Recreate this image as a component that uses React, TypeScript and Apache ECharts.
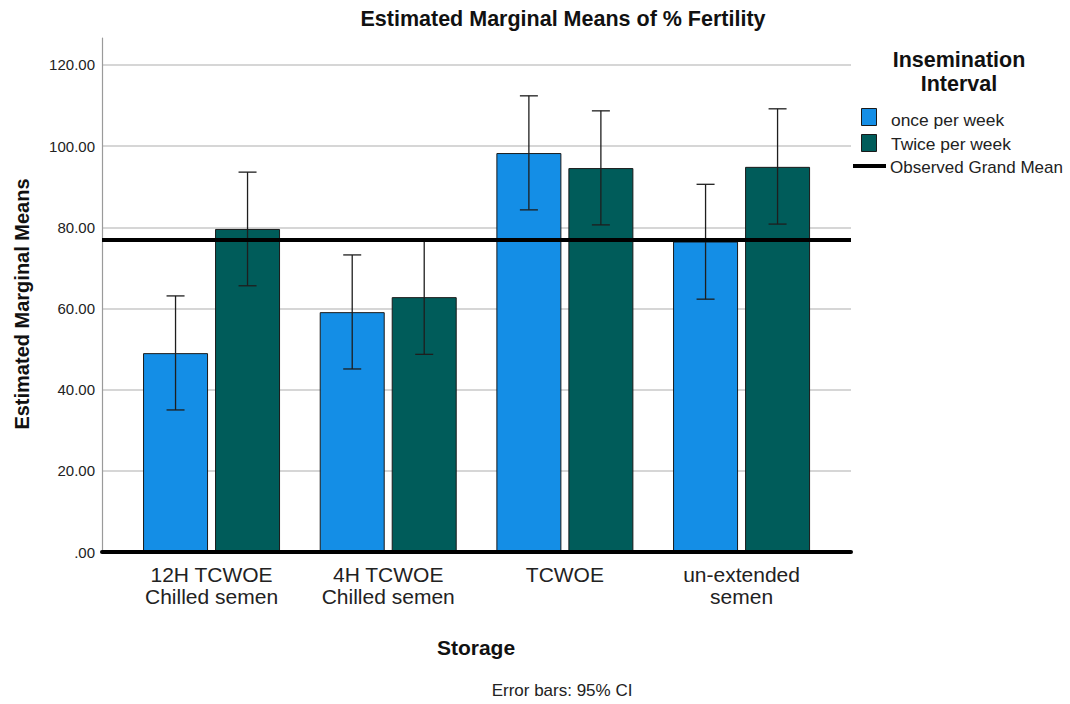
import React, { useEffect, useRef } from "react";
import * as echarts from "echarts";

// Storage methods on the category axis
const storageTypes = ["12H TCWOE\nChilled semen", "4H TCWOE\nChilled semen", "TCWOE", "un-extended\nsemen"];

// Estimated marginal means of % fertility, per insemination interval
const onceMeans = [49.0, 59.1, 98.3, 76.5];
const onceLower = [35.0, 45.1, 84.3, 62.3];
const onceUpper = [63.1, 73.2, 112.4, 90.6];

const twiceMeans = [79.6, 62.8, 94.6, 94.9];
const twiceLower = [65.6, 48.7, 80.6, 80.8];
const twiceUpper = [93.6, 76.8, 108.7, 109.2];

const grandMean = 77.0;

const seriesNames = ["once per week", "Twice per week"];
const grandMeanLabel = "Observed Grand Mean";

const ONCE_COLOR = "#148EE6";
const TWICE_COLOR = "#005C5A";
const FONT = "'Liberation Sans', Arial, sans-serif";

const BAR_WIDTH = 65;
const BAR_GAP = 7;
const Y_MAX = 126.65;

function errorBarSeries(name: string, lower: number[], upper: number[], offset: number) {
  return {
    type: "custom",
    name: name + " CI",
    xAxisIndex: 1,
    yAxisIndex: 1,
    z: 6,
    silent: true,
    data: lower.map((lo, i) => [i, lo, upper[i]]),
    renderItem: (params: any, api: any) => {
      const idx = api.value(0);
      const lo = api.coord([idx, api.value(1)]);
      const hi = api.coord([idx, api.value(2)]);
      const x = lo[0] + offset;
      const half = 9;
      const style = { stroke: "#1e1e1e", lineWidth: 1.3 };
      return {
        type: "group",
        children: [
          { type: "line", shape: { x1: x, y1: lo[1], x2: x, y2: hi[1] }, style },
          { type: "line", shape: { x1: x - half, y1: hi[1], x2: x + half, y2: hi[1] }, style },
          { type: "line", shape: { x1: x - half, y1: lo[1], x2: x + half, y2: lo[1] }, style },
        ],
      };
    },
  };
}

export default function App() {
  const ref = useRef<HTMLDivElement>(null);

  useEffect(() => {
    if (!ref.current) return;
    const chart = echarts.init(ref.current, null, { renderer: "svg" });
    const off = (BAR_WIDTH + BAR_GAP) / 2;

    chart.setOption({
      animation: false,
      backgroundColor: "#ffffff",
      textStyle: { fontFamily: FONT },
      grid: [
        { left: 102, right: 219, top: 38, bottom: 152 },
        { left: 123.2, right: 240.1, top: 38, bottom: 152 },
      ],
      xAxis: [
        {
          type: "value",
          gridIndex: 0,
          min: 0,
          max: 1,
          z: 8,
          axisLine: { show: true, onZero: false, lineStyle: { color: "#000", width: 4 } },
          axisTick: { show: false },
          axisLabel: { show: false },
          splitLine: { show: false },
        },
        {
          type: "category",
          gridIndex: 1,
          data: storageTypes,
          axisLine: { show: false },
          axisTick: { show: false },
          axisLabel: {
            color: "#222",
            fontSize: 21,
            lineHeight: 22,
            margin: 11,
            fontFamily: FONT,
            interval: 0,
          },
        },
      ],
      yAxis: [
        {
          type: "value",
          gridIndex: 0,
          min: 0,
          max: Y_MAX,
          interval: 20,
          axisLine: { show: true, lineStyle: { color: "#9a9a9a", width: 1.2 } },
          axisTick: { show: false },
          axisLabel: {
            color: "#222",
            fontSize: 15,
            margin: 7,
            fontFamily: FONT,
            showMaxLabel: false,
            formatter: (v: number) => (v % 20 !== 0 ? "" : v === 0 ? ".00" : v.toFixed(2)),
          },
          splitLine: { show: true, showMaxLine: false, lineStyle: { color: "#c9c9c9", width: 1.5 } },
        },
        {
          type: "value",
          gridIndex: 1,
          min: 0,
          max: Y_MAX,
          show: false,
          splitLine: { show: false },
        },
      ],
      series: [
        {
          type: "bar",
          name: seriesNames[0],
          xAxisIndex: 1,
          yAxisIndex: 1,
          data: onceMeans,
          barWidth: BAR_WIDTH,
          barGap: ((BAR_GAP / BAR_WIDTH) * 100).toFixed(2) + "%",
          itemStyle: { color: ONCE_COLOR, borderColor: "#1a1a1a", borderWidth: 1 },
          z: 2,
        },
        {
          type: "bar",
          name: seriesNames[1],
          xAxisIndex: 1,
          yAxisIndex: 1,
          data: twiceMeans,
          barWidth: BAR_WIDTH,
          barGap: ((BAR_GAP / BAR_WIDTH) * 100).toFixed(2) + "%",
          itemStyle: { color: TWICE_COLOR, borderColor: "#1a1a1a", borderWidth: 1 },
          z: 2,
        },
        errorBarSeries(seriesNames[0], onceLower, onceUpper, -off),
        errorBarSeries(seriesNames[1], twiceLower, twiceUpper, off),
        {
          type: "line",
          name: grandMeanLabel,
          xAxisIndex: 0,
          yAxisIndex: 0,
          data: [[0, grandMean]],
          symbol: "none",
          lineStyle: { opacity: 0 },
          z: 10,
          silent: true,
          markLine: {
            silent: true,
            symbol: "none",
            label: { show: false },
            lineStyle: { color: "#000", width: 4, type: "solid" },
            data: [{ yAxis: grandMean }],
            z: 10,
          },
        },
      ],
      graphic: [
        {
          type: "text",
          x: 563,
          y: 19,
          style: {
            text: "Estimated Marginal Means of % Fertility",
            font: `bold 21.5px ${FONT}`,
            fill: "#111",
            textAlign: "center",
            textVerticalAlign: "middle",
          },
        },
        {
          type: "text",
          x: 22,
          y: 304,
          rotation: Math.PI / 2,
          style: {
            text: "Estimated Marginal Means",
            font: `bold 20px ${FONT}`,
            fill: "#111",
            textAlign: "center",
            textVerticalAlign: "middle",
          },
        },
        {
          type: "text",
          x: 476,
          y: 647,
          style: {
            text: "Storage",
            font: `bold 21px ${FONT}`,
            fill: "#111",
            textAlign: "center",
            textVerticalAlign: "middle",
          },
        },
        {
          type: "text",
          x: 562,
          y: 690,
          style: {
            text: "Error bars: 95% CI",
            font: `17px ${FONT}`,
            fill: "#222",
            textAlign: "center",
            textVerticalAlign: "middle",
          },
        },
        // legend
        {
          type: "text",
          x: 959,
          y: 72,
          style: {
            text: "Insemination\nInterval",
            font: `bold 21.5px ${FONT}`,
            lineHeight: 24,
            fill: "#111",
            textAlign: "center",
            textVerticalAlign: "middle",
          },
        },
        {
          type: "rect",
          shape: { x: 861.5, y: 108.5, width: 15, height: 17 },
          style: { fill: ONCE_COLOR, stroke: "#1a1a1a", lineWidth: 1 },
        },
        {
          type: "rect",
          shape: { x: 861.5, y: 134.5, width: 15, height: 17 },
          style: { fill: TWICE_COLOR, stroke: "#1a1a1a", lineWidth: 1 },
        },
        {
          type: "line",
          shape: { x1: 853, y1: 166, x2: 886, y2: 166 },
          style: { stroke: "#000", lineWidth: 4 },
        },
        {
          type: "text",
          x: 891,
          y: 120,
          style: { text: seriesNames[0], font: `17.4px ${FONT}`, fill: "#222", textVerticalAlign: "middle" },
        },
        {
          type: "text",
          x: 891,
          y: 144,
          style: { text: seriesNames[1], font: `17.4px ${FONT}`, fill: "#222", textVerticalAlign: "middle" },
        },
        {
          type: "text",
          x: 890,
          y: 167,
          style: { text: grandMeanLabel, font: `17px ${FONT}`, fill: "#222", textVerticalAlign: "middle" },
        },
      ],
    });

    return () => chart.dispose();
  }, []);

  return (
    <div
      ref={ref}
      style={{ position: "fixed", left: 0, top: 0, width: 1070, height: 704, background: "#fff" }}
    />
  );
}
